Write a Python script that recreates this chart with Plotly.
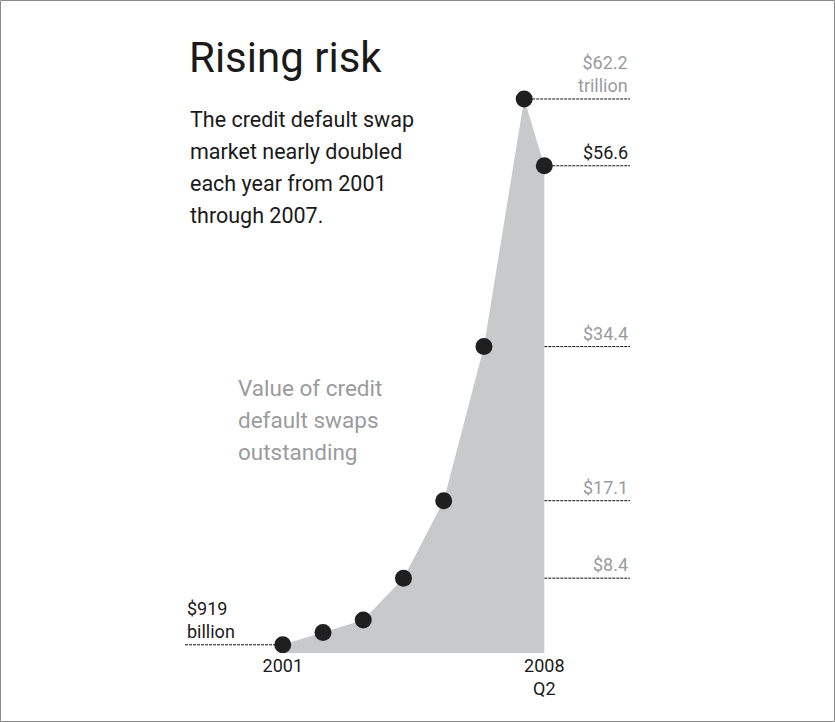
import plotly.graph_objects as go

# ---- data ----
periods = ["2001", "2002", "2003", "2004", "2005", "2006", "2007", "2008 Q2"]
x_pos = [2001, 2002, 2003, 2004, 2005, 2006, 2007, 2007.5]
values = [0.919, 2.3, 3.7, 8.4, 17.1, 34.4, 62.2, 54.7]   # trillions of dollars

right_levels = [8.4, 17.1, 34.4, 54.7, 62.2]
right_labels = ["$8.4", "$17.1", "$34.4", "$56.6", "$62.2<br>trillion"]
right_colors = ["#9a9b9d", "#9a9b9d", "#9a9b9d", "#1a1a1a", "#9a9b9d"]

left_level = 0.919
left_label = "$919<br>billion"

x_tick_vals = [2001, 2007.5]
x_tick_text = ["2001", "2008<br>Q2"]

title_text = "Rising risk"
subtitle_lines = ["The credit default swap", "market nearly doubled",
                  "each year from 2001", "through 2007."]
note_lines = ["Value of credit", "default swaps", "outstanding"]

# ---- geometry (pixels) ----
W, H = 835, 722
L, R, T, B = 185, 205, 40, 69
PW, PH = W - L - R, H - T - B
XMIN, XMAX = 1998.57, 2009.63
YMAX = 68.82

def px(x):
    return (x - L) / PW

def py(y):
    return (H - B - y) / PH

FONT = "Roboto, 'DejaVu Sans', sans-serif"

fig = go.Figure()

fig.add_trace(go.Scatter(
    x=x_pos, y=values, mode="lines", fill="tozeroy",
    fillcolor="#c8c9cb", line=dict(width=0, color="#c8c9cb"),
    hoverinfo="skip", showlegend=False))

fig.add_trace(go.Scatter(
    x=x_pos, y=values, mode="markers",
    marker=dict(size=17, color="#1f1f1f"),
    text=periods, showlegend=False))

shapes = []
annotations = []
DASH = "3px,1px"

for lvl, lab, col in zip(right_levels, right_labels, right_colors):
    x0 = max(x for x, v in zip(x_pos, values) if v >= lvl - 1e-9)
    shapes.append(dict(type="line", xref="x", yref="y", x0=x0, x1=XMAX,
                       y0=lvl, y1=lvl, line=dict(color="#111", width=1, dash=DASH),
                       layer="below"))
    annotations.append(dict(xref="x", yref="y", x=XMAX, y=lvl, text=lab,
                            showarrow=False, xanchor="right", yanchor="bottom",
                            align="right", yshift=1,
                            font=dict(family=FONT, size=18, color=col)))

shapes.append(dict(type="line", xref="x", yref="y", x0=XMIN, x1=x_pos[0],
                   y0=left_level, y1=left_level,
                   line=dict(color="#111", width=1, dash=DASH), layer="below"))
annotations.append(dict(xref="x", yref="y", x=XMIN, y=left_level, text=left_label,
                        showarrow=False, xanchor="left", yanchor="bottom",
                        align="left", yshift=1,
                        font=dict(family=FONT, size=18, color="#1a1a1a")))

# frame
shapes.append(dict(type="rect", xref="paper", yref="paper",
                   x0=px(0.5), x1=px(W - 0.5), y0=py(H - 0.5), y1=py(0.5),
                   line=dict(color="#8a8a8a", width=1), layer="below"))

annotations.append(dict(xref="paper", yref="paper", x=px(187), y=py(58),
                        text=title_text, showarrow=False, xanchor="left",
                        yanchor="middle",
                        font=dict(family=FONT, size=42, color="#1a1a1a")))
for i, line in enumerate(subtitle_lines):
    annotations.append(dict(xref="paper", yref="paper", x=px(188), y=py(119 + 32 * i),
                            text=line, showarrow=False, xanchor="left",
                            yanchor="middle",
                            font=dict(family=FONT, size=21.5, color="#1a1a1a")))
for i, line in enumerate(note_lines):
    annotations.append(dict(xref="paper", yref="paper", x=px(236), y=py(388 + 32 * i),
                            text=line, showarrow=False, xanchor="left",
                            yanchor="middle",
                            font=dict(family=FONT, size=22.5, color="#9a9b9d")))

fig.update_layout(
    width=W, height=H,
    margin=dict(l=L, r=R, t=T, b=B),
    paper_bgcolor="white", plot_bgcolor="white",
    shapes=shapes, annotations=annotations,
    xaxis=dict(range=[XMIN, XMAX], showgrid=False, zeroline=False, showline=False,
               tickmode="array", tickvals=x_tick_vals, ticktext=x_tick_text,
               ticks="", tickfont=dict(family=FONT, size=18, color="#1a1a1a"),
               fixedrange=True),
    yaxis=dict(range=[0, YMAX], showgrid=False, zeroline=False, showline=False,
               showticklabels=False, ticks="", fixedrange=True),
    showlegend=False,
)

fig.write_html("out.html", config={"displayModeBar": False},
               post_script="document.body.style.margin='0';")
